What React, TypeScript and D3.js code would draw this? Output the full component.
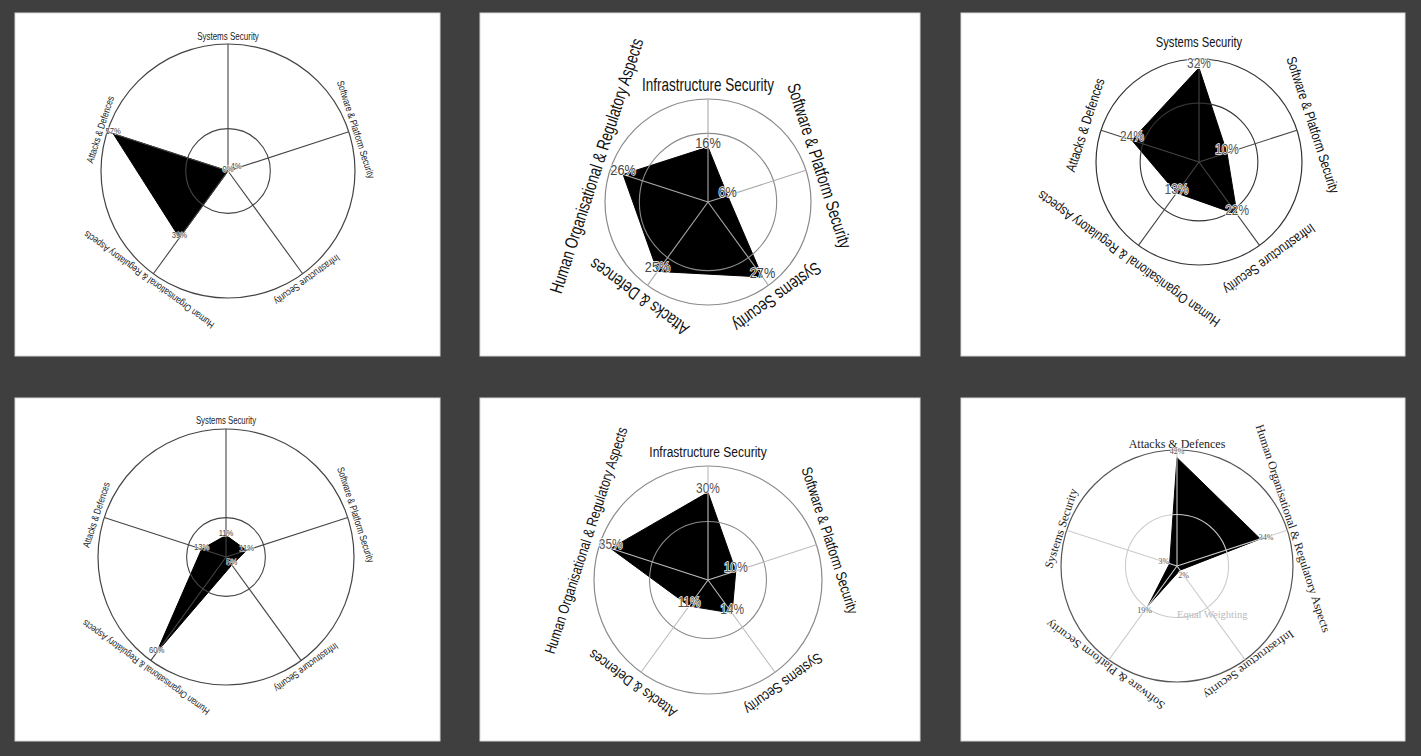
import React from 'react';
import * as d3 from 'd3';

// axis names, clockwise from the top, one list per panel
const axesP1 = ["Systems Security", "Software & Platform Security", "Infrastructure Security", "Human Organisational & Regulatory Aspects", "Attacks & Defences"];
const valuesP1 = [0, 4, 0, 39, 57];

const axesP2 = ["Infrastructure Security", "Software & Platform Security", "Systems Security", "Attacks & Defences", "Human Organisational & Regulatory Aspects"];
const valuesP2 = [16, 6, 27, 25, 26];

const axesP3 = ["Systems Security", "Software & Platform Security", "Infrastructure Security", "Human Organisational & Regulatory Aspects", "Attacks & Defences"];
const valuesP3 = [32, 10, 22, 13, 24];

const axesP4 = ["Systems Security", "Software & Platform Security", "Infrastructure Security", "Human Organisational & Regulatory Aspects", "Attacks & Defences"];
const valuesP4 = [11, 11, 5, 60, 13];

const axesP5 = ["Infrastructure Security", "Software & Platform Security", "Systems Security", "Attacks & Defences", "Human Organisational & Regulatory Aspects"];
const valuesP5 = [30, 10, 14, 11, 35];

const axesP6 = ["Attacks & Defences", "Human Organisational & Regulatory Aspects", "Infrastructure Security", "Software & Platform Security", "Systems Security"];
const valuesP6 = [42, 34, 2, 19, 3];

// outer ring value of each panel, inner ring = equal weighting (1/5)
const scaleMax = [60, 30, 35, 65, 39, 45];
const ringValues = [20];
const ringLabel = "Equal Weighting";

const SANS = '"Liberation Sans", Arial, sans-serif';
const SERIF = '"Liberation Serif", "Times New Roman", serif';

// panel boxes and look (not data)
const panels = [
  { axes: axesP1, values: valuesP1, x: 15, y: 13, w: 425, h: 343, cx: 228, cy: 171, R: 127, font: SANS, size: 10, sx: 0.8, off: 4, pct: 9, pctSx: 0.85, pctPush: 0, ring: '#444', outer: '#444', spoke: '#444', text: '#222', pctFill: '#444' },
  { axes: axesP2, values: valuesP2, x: 480, y: 13, w: 440, h: 343, cx: 708, cy: 202, R: 103, font: SANS, size: 18, sx: 0.75, off: 8, pct: 15, pctSx: 0.85, pctPush: 0, ring: '#8a8a8a', outer: '#8a8a8a', spoke: '#aaa', text: '#111', pctFill: '#444' },
  { axes: axesP3, values: valuesP3, x: 961, y: 13, w: 444, h: 343, cx: 1199, cy: 162, R: 103, font: SANS, size: 14, sx: 0.8, off: 12, pct: 14, pctSx: 0.85, pctPush: 0, ring: '#333', outer: '#333', spoke: '#444', text: '#111', pctFill: '#555' },
  { axes: axesP4, values: valuesP4, x: 15, y: 398, w: 425, h: 343, cx: 226, cy: 557, R: 128, font: SANS, size: 10, sx: 0.78, off: 5, pct: 9, pctSx: 0.85, pctPush: 0, ring: '#444', outer: '#444', spoke: '#444', text: '#222', pctFill: '#444' },
  { axes: axesP5, values: valuesP5, x: 480, y: 398, w: 440, h: 343, cx: 708, cy: 580, R: 114, font: SANS, size: 15, sx: 0.8, off: 9, pct: 14, pctSx: 0.85, pctPush: 0, ring: '#8a8a8a', outer: '#8a8a8a', spoke: '#bbb', text: '#111', pctFill: '#555' },
  { axes: axesP6, values: valuesP6, x: 961, y: 398, w: 444, h: 343, cx: 1177, cy: 566, R: 116, font: SERIF, size: 12, sx: 1, off: 2, pct: 8, pctSx: 1, pctPush: 6, ring: '#ccc', outer: '#555', spoke: '#ccc', text: '#222', pctFill: '#555', showRing: true },
];

const Radar = ({ p, max }) => {
  const n = p.axes.length;
  const r = d3.scaleLinear().domain([0, max]).range([0, p.R]);
  const angle = d3.scaleLinear().domain([0, n]).range([0, 2 * Math.PI]);
  const shape = d3.lineRadial<number>()
    .angle((d, i) => angle(i))
    .radius(d => r(d))
    .curve(d3.curveLinearClosed);

  return (
    <g transform={`translate(${p.cx},${p.cy})`}>
      <path d={shape(p.values) || ''} fill="#000" stroke="#000" strokeWidth={1} strokeLinejoin="round" />
      {ringValues.map(v => (
        <circle key={v} r={r(v)} fill="none" stroke={p.ring} strokeWidth={1.1} />
      ))}
      <circle r={r(max)} fill="none" stroke={p.outer} strokeWidth={1.2} />
      {p.axes.map((a, i) => {
        const [x, y] = d3.pointRadial(angle(i), r(max));
        return <line key={a} x1={0} y1={0} x2={x} y2={y} stroke={p.spoke} strokeWidth={1.1} />;
      })}
      {p.axes.map((a, i) => {
        const deg = (angle(i) * 180) / Math.PI;
        return (
          <text key={'l' + a}
            transform={`rotate(${deg}) translate(0,${-(r(max) + p.off)}) scale(${p.sx},1)`}
            textAnchor="middle" fontFamily={p.font} fontSize={p.size} fill={p.text}>
            {a}
          </text>
        );
      })}
      {p.values.map((v, i) => {
        const [x, y] = d3.pointRadial(angle(i), r(v) + p.pctPush);
        const dy = p.pctPush ? 0 : -0.3 * p.pct;
        return (
          <text key={'v' + i} transform={`translate(${x},${y + dy}) scale(${p.pctSx},1)`}
            textAnchor="middle" dominantBaseline="central" fontFamily={p.font} fontSize={p.pct}
            fill={p.pctFill} stroke="#fff" strokeWidth={p.pct > 10 ? 1.4 : 0.8} paintOrder="stroke">
            {v}%
          </text>
        );
      })}
      {p.showRing && (
        <text x={0} y={r(ringValues[0])} fontFamily={p.font} fontSize={10.5} fill="#bbb">{ringLabel}</text>
      )}
    </g>
  );
};

const App = () => {
  const width = 1421;
  const height = 756;
  return (
    <svg width={width} height={height} style={{ position: 'absolute', left: 0, top: 0 }}>
      <rect x={0} y={0} width={width} height={height} fill="#3f3f3f" />
      {panels.map((p, i) => (
        <g key={i}>
          <rect x={p.x} y={p.y} width={p.w} height={p.h} fill="#fff" stroke="#d8d8d8" strokeWidth={1} />
          <Radar p={p} max={scaleMax[i]} />
        </g>
      ))}
    </svg>
  );
};

export default App;
